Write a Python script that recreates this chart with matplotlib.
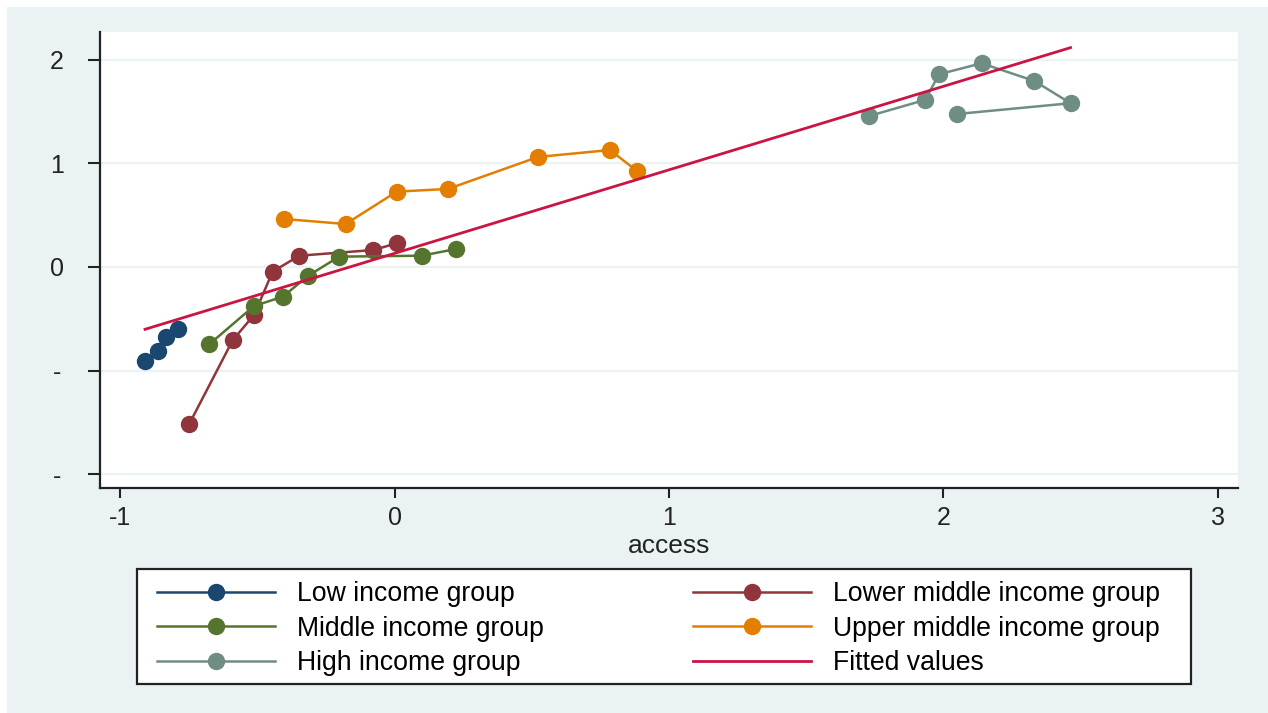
import matplotlib
matplotlib.use("Agg")
import matplotlib.pyplot as plt
from matplotlib.patches import Rectangle

plt.rcParams['font.family'] = ['Liberation Sans', 'DejaVu Sans']
plt.rcParams['axes.unicode_minus'] = False

# values
low_x = [-0.909, -0.863, -0.834, -0.790]
low_y = [-0.908, -0.809, -0.679, -0.596]

lowmid_x = [-0.748, -0.589, -0.512, -0.444, -0.347, -0.077, 0.008]
lowmid_y = [-1.517, -0.705, -0.464, -0.045, 0.109, 0.164, 0.229]

mid_x = [-0.675, -0.512, -0.407, -0.314, -0.202, 0.099, 0.224]
mid_y = [-0.747, -0.377, -0.287, -0.084, 0.100, 0.109, 0.174]

upmid_x = [-0.403, -0.178, 0.008, 0.195, 0.523, 0.785, 0.883]
upmid_y = [0.464, 0.415, 0.728, 0.754, 1.063, 1.130, 0.928]

high_x = [1.730, 1.933, 1.984, 2.139, 2.331, 2.463, 2.050]
high_y = [1.459, 1.614, 1.862, 1.968, 1.797, 1.582, 1.478]

fit_x = [-0.909, 2.463]
fit_y = [-0.602, 2.119]

y_ticks = [2, 1, 0, -1, -2]
y_ticklabels = ['2', '1', '0', '-', '-']
x_ticks = [-1, 0, 1, 2, 3]

bg = '#eaf2f3'
W, H = 1268, 713

fig = plt.figure(figsize=(W / 100, H / 100), dpi=100, facecolor='white')
fig.patches.append(Rectangle((7 / W, 0), 1 - 7 / W, 1 - 7 / H, transform=fig.transFigure,
                             facecolor=bg, edgecolor='none', zorder=-10))
ax = fig.add_axes([100 / W, 1 - 488 / H, (1238 - 100) / W, (488 - 32) / H])
ax.set_facecolor('white')

ms = 11.5
lw = 1.8
h_low, = ax.plot(low_x, low_y, '-o', color='#1a476f', ms=ms, lw=lw, label='Low income group')
h_lm, = ax.plot(lowmid_x, lowmid_y, '-o', color='#90353b', ms=ms, lw=lw, label='Lower middle income group')
h_mid, = ax.plot(mid_x, mid_y, '-o', color='#55752f', ms=ms, lw=lw, label='Middle income group')
h_um, = ax.plot(upmid_x, upmid_y, '-o', color='#e37e00', ms=ms, lw=lw, label='Upper middle income group')
h_high, = ax.plot(high_x, high_y, '-o', color='#6e8e84', ms=ms, lw=lw, label='High income group')
h_fit, = ax.plot(fit_x, fit_y, '-', color='#cc1442', lw=2.0, label='Fitted values')

ax.set_xlim(-1.073, 3.073)
ax.set_ylim(-2.135, 2.27)
ax.set_xticks(x_ticks)
ax.set_yticks(y_ticks)
ax.set_yticklabels(y_ticklabels, ha='center')
ax.grid(axis='y', color=bg, lw=1.6)
ax.set_axisbelow(True)
for s in ['top', 'right']:
    ax.spines[s].set_visible(False)
for s in ['left', 'bottom']:
    ax.spines[s].set_linewidth(1.6)
    ax.spines[s].set_color('#222222')
ax.tick_params(axis='y', length=9, width=1.5, pad=22, labelsize=18, colors='#222222')
ax.tick_params(axis='x', length=7, width=1.5, pad=6, labelsize=18, colors='#222222')
ax.set_xlabel('access', fontsize=19, labelpad=2.5, color='#222222')

# legend box drawn separately so its size matches the original
fig.patches.append(Rectangle((137 / W, 1 - 684 / H), (1191 - 137) / W, (684 - 569) / H,
                             transform=fig.transFigure, facecolor='white',
                             edgecolor='#222222', lw=1.6, zorder=1))
leg = fig.legend(handles=[h_low, h_mid, h_high, h_lm, h_um, h_fit], ncol=2,
                 loc='upper left', bbox_to_anchor=(157 / W, 1 - 581 / H),
                 fontsize=19.2, handlelength=4.42, handletextpad=0.82, columnspacing=5.62,
                 labelspacing=0.32, borderpad=0, borderaxespad=0, frameon=False)
leg.set_zorder(2)

fig.savefig('out.png', dpi=100, facecolor=fig.get_facecolor())
